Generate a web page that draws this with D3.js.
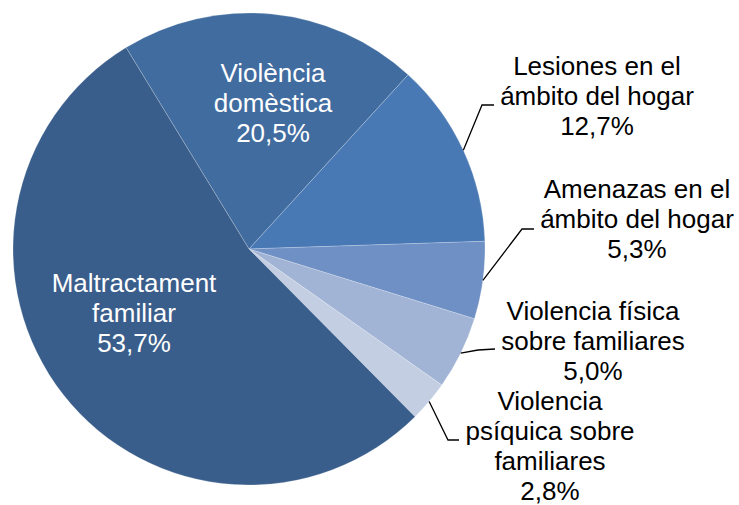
<!DOCTYPE html>
<html>
<head>
<meta charset="utf-8">
<script src="https://cdn.jsdelivr.net/npm/d3@7"></script>
<style>
  body { margin: 0; background: #fff; }
  text { font-family: "Liberation Sans", Arial, sans-serif; }
</style>
</head>
<body>
<div id="chart"></div>
<script>
// data, clockwise from the first slice
var categories = ["Violència domèstica", "Lesiones en el ámbito del hogar", "Amenazas en el ámbito del hogar",
                  "Violencia física sobre familiares", "Violencia psíquica sobre familiares", "Maltractament familiar"];
var values = [20.5, 12.7, 5.3, 5.0, 2.8, 53.7];
var labelLines = [
  ["Violència", "domèstica"],
  ["Lesiones en el", "ámbito del hogar"],
  ["Amenazas en el", "ámbito del hogar"],
  ["Violencia física", "sobre familiares"],
  ["Violencia", "psíquica sobre", "familiares"],
  ["Maltractament", "familiar"]
];
var colors = ["#416c9f", "#4879b4", "#6f90c5", "#a2b4d6", "#c3cee3", "#3a5e8b"];

// layout
var width = 739, height = 505;
var cx = 249, cy = 249, radius = 236;
var startDeg = -31.4;
var fontSize = 26, lineH = 30;
// label centre x, first baseline y, inside flag, leader elbow / end
var labelPos = [
  {x: 273, y: 82, inside: true},
  {x: 597, y: 75, elbow: [482, 105], end: [494, 105]},
  {x: 637, y: 198, elbow: [522, 229], end: [534, 229]},
  {x: 593, y: 320, elbow: [478, 350], end: [495, 349]},
  {x: 550, y: 410, elbow: [448, 440], end: [459, 440]},
  {x: 134, y: 292, inside: true}
];

var fmt = function(v) { return d3.format(".1f")(v).replace(".", ",") + "%"; };

var svg = d3.select("#chart").append("svg")
    .attr("width", width)
    .attr("height", height);

var g = svg.append("g")
    .attr("transform", "translate(" + cx + "," + cy + ")");

var pie = d3.pie()
    .sort(null)
    .value(function(d) { return d; })
    .startAngle(startDeg * Math.PI / 180)
    .endAngle(startDeg * Math.PI / 180 + 2 * Math.PI);

var arcs = pie(values);

var arc = d3.arc()
    .innerRadius(0)
    .outerRadius(radius);

g.selectAll("path.slice")
  .data(arcs)
  .enter()
  .append("path")
    .attr("class", "slice")
    .attr("d", arc)
    .attr("fill", function(d, i) { return colors[i]; })
    .attr("stroke", "#ffffff")
    .attr("stroke-opacity", 0.35)
    .attr("stroke-width", 0.6);

// leader lines for the outside labels
arcs.forEach(function(d, i) {
  var p = labelPos[i];
  if (p.inside) return;
  var a = (d.startAngle + d.endAngle) / 2;
  var sx = cx + radius * Math.sin(a), sy = cy - radius * Math.cos(a);
  svg.append("path")
    .attr("d", "M" + sx + "," + sy + "L" + p.elbow[0] + "," + p.elbow[1] + "L" + p.end[0] + "," + p.end[1])
    .attr("fill", "none")
    .attr("stroke", "#000")
    .attr("stroke-width", 1.3);
});

// labels
arcs.forEach(function(d, i) {
  var p = labelPos[i];
  var lines = labelLines[i].concat([fmt(values[i])]);
  var t = svg.append("text")
    .attr("text-anchor", "middle")
    .attr("font-size", fontSize)
    .attr("fill", p.inside ? "#ffffff" : "#000000");
  lines.forEach(function(s, k) {
    t.append("tspan")
      .attr("x", p.x)
      .attr("y", p.y + k * lineH)
      .text(s);
  });
});
</script>
</body>
</html>
